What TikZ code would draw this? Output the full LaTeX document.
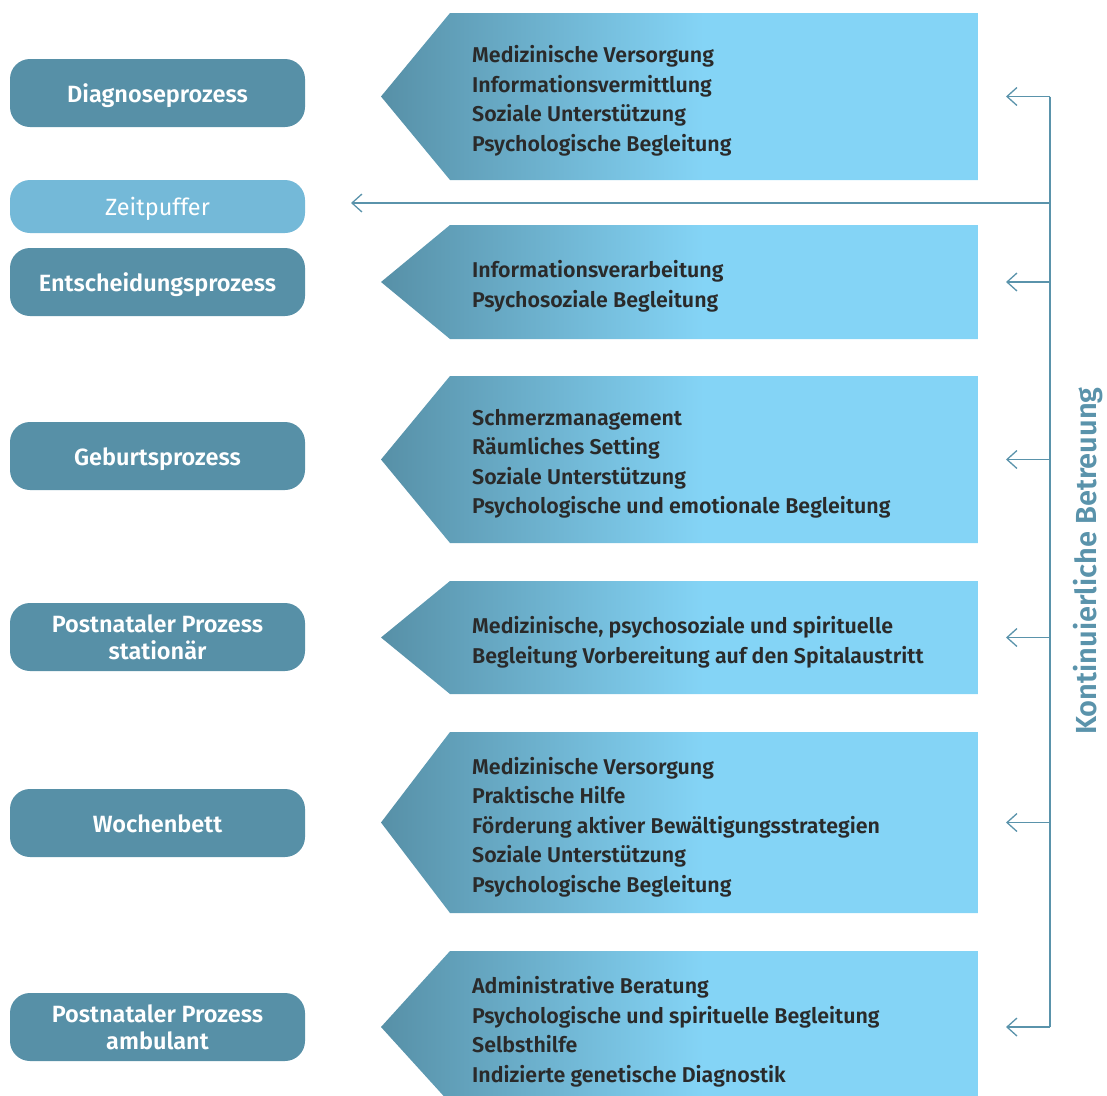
\documentclass[tikz,border=0pt]{standalone}
\usepackage{fontspec}
\setmainfont{Fira Sans}
\newfontfamily\semib{Fira Sans SemiBold}
\usetikzlibrary{arrows.meta}
\definecolor{boxc}{HTML}{5790A7}
\definecolor{zeitc}{HTML}{74B9D8}
\definecolor{linec}{HTML}{5A93AB}
\definecolor{lightc}{HTML}{84D4F6}
\definecolor{txtc}{HTML}{2A2A2A}
\pgfdeclarehorizontalshading{pentshade}{100bp}{color(0bp)=(boxc); color(25bp)=(boxc); color(52bp)=(lightc); color(100bp)=(lightc)}
\tikzset{
  procbox/.style={rounded corners=20pt, fill=boxc, text=white, minimum width=295pt,
    minimum height=68pt, align=center, inner sep=0pt,
    font=\semib\fontsize{23.5}{27}\selectfont},
  oneline/.style={text height=20pt, text depth=2pt},
  zeitbox/.style={procbox, oneline, fill=zeitc, minimum height=53pt, font=\fontsize{23.5}{24}\selectfont},
  listtext/.style={anchor=west, align=left, text=txtc, inner sep=0pt,
    font=\semib\fontsize{21.4}{29.5}\selectfont},
  conn/.style={draw=linec, line width=1.3pt},
  connarrow/.style={conn, -{Straight Barb[length=10pt,width=18pt,line width=1.3pt]}},
  sidelabel/.style={rotate=90, text=linec, font=\semib\fontsize{29}{29}\selectfont}
}
\newcommand\pentagon[4]{%
  \shade[shading=pentshade] (381,{(#2+#3)/2}) -- (450,#2) -- (978,#2) -- (978,#3) -- (450,#3) -- cycle;
  \node[listtext] (#1) at (472,{(#2+#3)/2+4.5}) {#4};
  \coordinate (#1-in) at (1006,{(#2+#3)/2});
  \coordinate (#1-tr) at (1050,{(#2+#3)/2});
}
\begin{document}
\begin{tikzpicture}[x=1pt,y=-1pt]
\useasboundingbox (0,0) rectangle (1107,1095);
\clip (0,0) rectangle (1107,1095);

% left process boxes
\node[procbox, oneline] (diag) at (157.5,93) {Diagnoseprozess};
\node[zeitbox] (zeit) at (157.5,206.5) {Zeitpuffer};
\node[procbox, oneline] (ents) at (157.5,282) {Entscheidungsprozess};
\node[procbox, oneline] (geb) at (157.5,456) {Geburtsprozess};
\node[procbox] (stat) at (157.5,637) {Postnataler Prozess\\stationär};
\node[procbox, oneline] (woch) at (157.5,823) {Wochenbett};
\node[procbox] (amb) at (157.5,1027) {Postnataler Prozess\\ambulant};

% pentagons with lists
\pentagon{p1}{13}{180}{Medizinische Versorgung\\Informationsvermittlung\\Soziale Unterstützung\\Psychologische Begleitung}
\pentagon{p2}{225}{339}{Informationsverarbeitung\\Psychosoziale Begleitung}
\pentagon{p3}{376}{543}{Schmerzmanagement\\Räumliches Setting\\Soziale Unterstützung\\Psychologische und emotionale Begleitung}
\pentagon{p4}{581}{694}{Medizinische, psychosoziale und spirituelle\\Begleitung Vorbereitung auf den Spitalaustritt}
\pentagon{p5}{732}{913}{Medizinische Versorgung\\Praktische Hilfe\\Förderung aktiver Bewältigungsstrategien\\Soziale Unterstützung\\Psychologische Begleitung}
\pentagon{p6}{951}{1103}{Administrative Beratung\\Psychologische und spirituelle Begleitung\\Selbsthilfe\\Indizierte genetische Diagnostik}

% connectors
\coordinate (tz) at (1050,203);
\coordinate (zin) at (351,203);
\draw[conn] (p1-tr) -- (p6-tr);
\foreach \p in {p1,p2,p3,p4,p5,p6}{
  \draw[connarrow] (\p-tr) -- (\p-in);
}
\draw[connarrow] (tz) -- (zin);

\node[sidelabel] (kb) at (1088,561) {Kontinuierliche Betreuung};
\end{tikzpicture}
\end{document}
